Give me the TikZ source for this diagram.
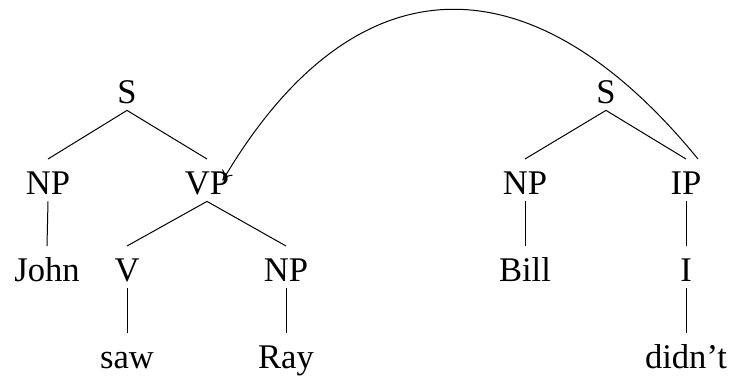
\documentclass[tikz,border=0pt]{standalone}
\usepackage{fontspec}
\setmainfont{Liberation Serif}
\usetikzlibrary{arrows.meta}
\begin{document}
\begin{tikzpicture}[x=0.5pt,y=-0.5pt,
  lab/.style={inner sep=0pt,text height=11.3pt,text depth=0pt,anchor=base,font=\fontsize{17.3}{20}\selectfont},
  branch/.style={line width=0.5pt},
  mover/.style={line width=0.5pt,-{To[length=5pt,width=6pt]}}]
\useasboundingbox (0,0) rectangle (732,375);
% left tree
\node[lab] (S1) at (127,103) {S};
\node[lab] (NP1) at (48,194) {NP};
\node[lab] (VP) at (207,194) {VP};
\node[lab] (John) at (47,281) {John};
\node[lab] (V) at (127,281) {V};
\node[lab] (NP2) at (286,281) {NP};
\node[lab] (saw) at (127,368) {saw};
\node[lab] (Ray) at (286,368) {Ray};
% right tree
\node[lab] (S2) at (606,103) {S};
\node[lab] (NP3) at (525,194) {NP};
\node[lab] (IP) at (686,194) {IP};
\node[lab] (Bill) at (525,281) {Bill};
\node[lab] (I) at (686,281) {I};
\node[lab] (didnt) at (686,368) {didn’t};
% branches
\foreach \a/\b in {S1/NP1,S1/VP,NP1/John,VP/V,VP/NP2,V/saw,NP2/Ray,S2/NP3,S2/IP,NP3/Bill,IP/I,I/didnt}
  \draw[branch] ([yshift=-3.5pt]\a.south) -- ([yshift=6pt]\b.north);
% movement arrow
\draw[mover] ([xshift=6pt,yshift=6pt]IP.north) .. controls (532,-44) and (355,-44) .. ([xshift=-3.5pt,yshift=1pt]VP.east);
\end{tikzpicture}
\end{document}
